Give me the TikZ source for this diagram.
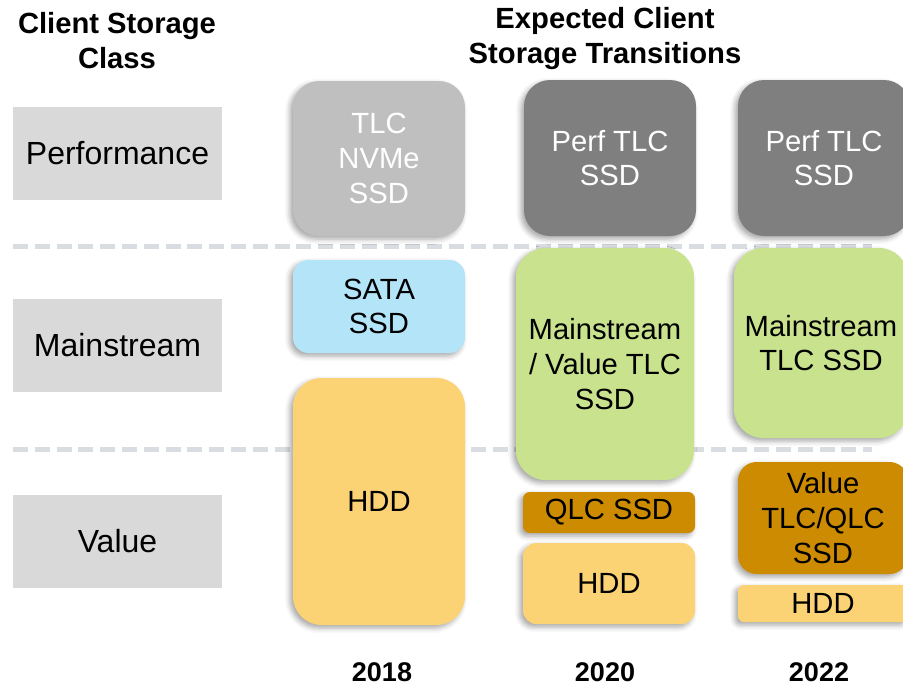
\documentclass[tikz,border=0pt]{standalone}
\usepackage{fontspec}
\setmainfont{Liberation Sans}
\usetikzlibrary{shadows.blur}
\definecolor{classgris}{RGB}{217,217,217}
\definecolor{tlcgris}{RGB}{191,191,191}
\definecolor{perfgris}{RGB}{127,127,127}
\definecolor{sataazur}{RGB}{180,228,248}
\definecolor{hddjaune}{RGB}{252,211,116}
\definecolor{mainvert}{RGB}{201,226,141}
\definecolor{qlcor}{RGB}{204,139,0}
\definecolor{tiretgris}{RGB}{217,220,224}
\begin{document}
\begin{tikzpicture}[x=0.5pt, y=-0.5pt]
	\tikzset{classe/.style={rectangle, fill=classgris, minimum width=104.5pt, minimum height=46.5pt, text centered, font=\fontsize{16}{19}\selectfont},
	boite/.style={rectangle, rounded corners=#1, text centered, align=center, inner sep=0pt, font=\fontsize{14.6}{17.3}\selectfont,
		blur shadow={shadow xshift=-1.5pt, shadow yshift=-1.5pt, shadow blur radius=2.5pt, shadow opacity=35}},
	boite/.default=8pt,
	titre/.style={align=center, font=\bfseries\fontsize{14.6}{17.5}\selectfont},
	annee/.style={inner sep=1pt, font=\bfseries\fontsize{13.5}{16}\selectfont},
	ligne/.style={line width=2.5pt, tiretgris, dash pattern=on 7.5pt off 3.4pt}};
	\useasboundingbox (0,0) rectangle (903,685);
	\clip (0,0) rectangle (903,685);

	\node[titre] (titreclasse) at (117,40.5) {Client Storage\\Class};
	\node[titre] (titretrans) at (605,39) {Expected Client\\Storage Transitions};

	\foreach \y/\nom/\texte in {153.5/perf/Performance, 345/main/Mainstream, 541/val/Value} {
		\node[classe] (\nom) at (117.5,\y) {\texte};
	}

	\draw[ligne] (13,246) -- (872,246);
	\draw[ligne] (13,449) -- (872,449);

	% 2018
	\node[boite=13pt, fill=tlcgris, text=white, minimum width=86pt, minimum height=77.5pt] (tlc18) at (379,158.5) {TLC\\NVMe\\SSD};
	\node[boite=7.75pt, fill=sataazur, minimum width=86pt, minimum height=46.5pt] (sata18) at (379,306.5) {SATA\\SSD};
	\node[boite=14.3pt, fill=hddjaune, minimum width=86pt, minimum height=123.5pt] (hdd18) at (379,501.5) {HDD};

	% 2020
	\node[boite=13pt, fill=perfgris, text=white, minimum width=86pt, minimum height=78pt] (perf20) at (610,158) {Perf TLC\\SSD};
	\node[boite=14.8pt, fill=mainvert, minimum width=89pt, minimum height=116pt] (main20) at (605,364) {Mainstream\\/ Value TLC\\SSD};
	\node[boite=3.4pt, fill=qlcor, minimum width=86pt, minimum height=20.5pt] (qlc20) at (609,512.5) {QLC SSD};
	\node[boite=6.75pt, fill=hddjaune, minimum width=86pt, minimum height=40.5pt] (hdd20) at (609,583.5) {HDD};

	% 2022
	\node[boite=13pt, fill=perfgris, text=white, minimum width=86pt, minimum height=78pt] (perf22) at (824,158) {Perf TLC\\SSD};
	\node[boite=14.5pt, fill=mainvert, minimum width=87pt, minimum height=95pt] (main22) at (821,343) {Mainstream\\TLC SSD};
	\node[boite=9.3pt, fill=qlcor, minimum width=85pt, minimum height=56pt] (val22) at (823,518) {Value\\TLC/QLC\\SSD};
	\node[boite=3pt, fill=hddjaune, minimum width=85pt, minimum height=18.5pt] (hdd22) at (823,603.5) {HDD};

	\foreach \x/\an in {382/2018, 605/2020, 819/2022} {
		\node[annee] (an\an) at (\x,672) {\an};
	}
\end{tikzpicture}
\end{document}
